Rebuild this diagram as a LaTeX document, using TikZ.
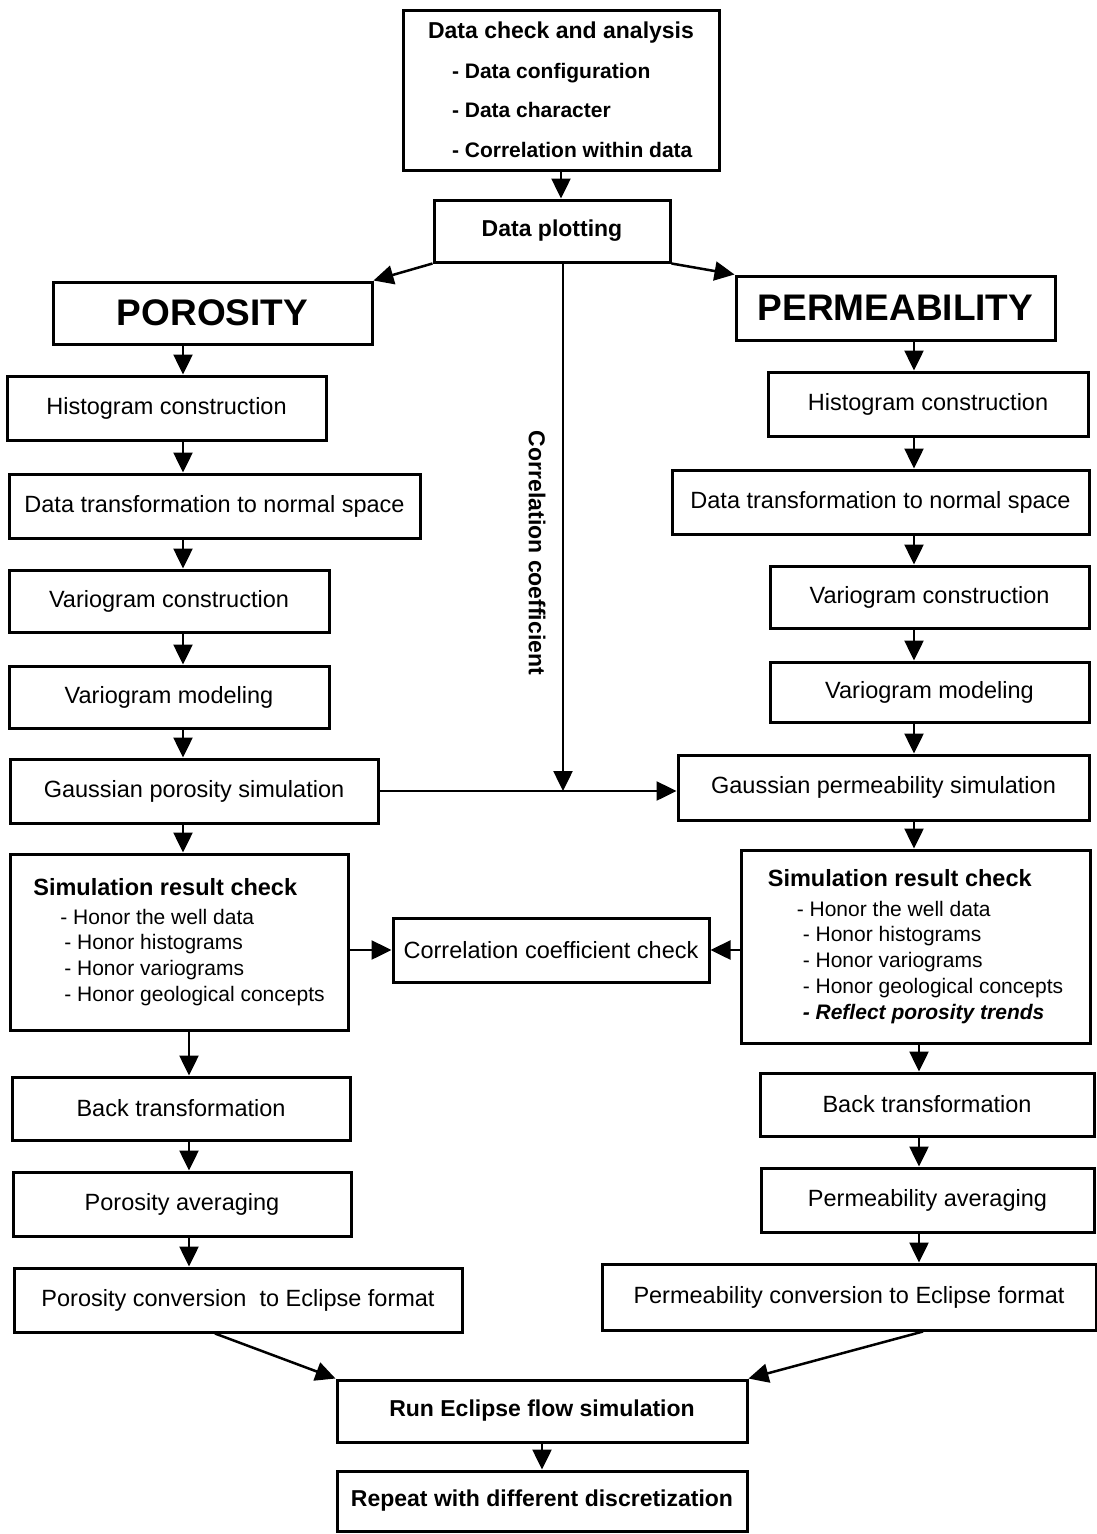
\documentclass[tikz,border=0pt]{standalone}
\usepackage{fontspec}
\setmainfont{Liberation Sans}
\usetikzlibrary{arrows.meta}
\newcommand{\boxfont}{\fontsize{23.5}{28}\selectfont}
\newcommand{\bigfont}{\fontsize{37}{44}\selectfont\bfseries}

\begin{document}
\begin{tikzpicture}[x=1pt, y=-1pt,
  box/.style={draw, line width=3pt, inner sep=0pt, font=\boxfont, align=center},
  boldbox/.style={box, font=\fontsize{23}{28}\selectfont\bfseries},
  checkbox/.style={box, align=left, font=\fontsize{21}{25.7}\selectfont},
  arrow/.style={-{Triangle[length=20pt,width=19pt]}, line width=2.5pt}
]
\useasboundingbox (0,0) rectangle (1097,1534);

\node[box, align=left, minimum width=316, minimum height=160, font=\fontsize{21}{39.5}\selectfont\bfseries] (check) at (561,90)
  {{\fontsize{23}{39.5}\selectfont Data check and analysis}\\
   \hspace*{24pt}- Data configuration\\
   \hspace*{24pt}- Data character\\
   \hspace*{24pt}- Correlation within data};
\node[boldbox, minimum width=236, minimum height=62] (plot) at (552,231) {Data plotting};
\node[box, font=\bigfont, minimum width=319, minimum height=62] (poro) at (212.5,313) {POROSITY};
\node[box, font=\bigfont, minimum width=319, minimum height=64] (perm) at (895.5,308) {PERMEABILITY};

\node[box, minimum width=319, minimum height=64] (lhist) at (166.5,408) {Histogram construction};
\node[box, minimum width=411, minimum height=64] (ltrans) at (214.5,506) {Data transformation to normal space};
\node[box, minimum width=320, minimum height=62] (lvar) at (169,601) {Variogram construction};
\node[box, minimum width=320, minimum height=62] (lmod) at (169,697) {Variogram modeling};
\node[box, minimum width=368, minimum height=64] (lgauss) at (194,791) {Gaussian porosity simulation};
\node[checkbox, minimum width=338, minimum height=176] (lcheck) at (179,942)
  {{\fontsize{23.5}{25.7}\selectfont\bfseries Simulation result check}\\[3pt]
   \hspace*{27pt}- Honor the well data\\
   \hspace*{31pt}- Honor histograms\\
   \hspace*{31pt}- Honor variograms\\
   \hspace*{31pt}- Honor geological concepts};
\node[box, minimum width=338, minimum height=63] (lback) at (181,1108.5) {Back transformation};
\node[box, minimum width=338, minimum height=64] (lavg) at (182,1204) {Porosity averaging};
\node[box, minimum width=448, minimum height=64] (lconv) at (238,1300) {Porosity conversion~ to Eclipse format};

\node[box, minimum width=320, minimum height=64] (rhist) at (928,404) {Histogram construction};
\node[box, minimum width=417, minimum height=64] (rtrans) at (880.5,502) {Data transformation to normal space};
\node[box, minimum width=319, minimum height=62] (rvar) at (929.5,597) {Variogram construction};
\node[box, minimum width=319, minimum height=60] (rmod) at (929.5,692) {Variogram modeling};
\node[box, minimum width=411, minimum height=65] (rgauss) at (883.5,787.5) {Gaussian permeability simulation};
\node[checkbox, minimum width=349, minimum height=193] (rcheck) at (915.5,946.5)
  {{\fontsize{23.5}{25.7}\selectfont\bfseries Simulation result check}\\[4pt]
   \hspace*{29pt}- Honor the well data\\
   \hspace*{35pt}- Honor histograms\\
   \hspace*{35pt}- Honor variograms\\
   \hspace*{35pt}- Honor geological concepts\\
   \hspace*{35pt}\textbf{\textit{- Reflect porosity trends}}};
\node[box, minimum width=334, minimum height=63] (rback) at (927,1104.5) {Back transformation};
\node[box, minimum width=333, minimum height=64] (ravg) at (927.5,1200) {Permeability averaging};
\node[box, minimum width=494, minimum height=66] (rconv) at (849,1297) {Permeability conversion to Eclipse format};

\node[box, minimum width=316, minimum height=64] (ccheck) at (551,950) {Correlation coefficient check};
\node[font=\fontsize{23}{28}\selectfont\bfseries, rotate=-90] (cclabel) at (537,553) {Correlation coefficient};

\node[boldbox, minimum width=410, minimum height=62] (run) at (542,1411) {Run Eclipse flow simulation};
\node[boldbox, minimum width=410, minimum height=60] (rep) at (542,1501) {Repeat with different discretization};

\coordinate (lcol) at (183,0);
\coordinate (lcol2) at (189,0);
\coordinate (rcol) at (914,0);
\coordinate (rcol2) at (919,0);
\coordinate (join) at (563,791);

\draw[arrow] (check.south) -- (check.south |- plot.north);
\draw[arrow] (plot.south west) -- (poro.north east);
\draw[arrow] (plot.south east) -- (perm.north west);
\draw[arrow] (plot.south -| join) -- (join);
\draw[arrow] (lgauss.east) -- (lgauss.east -| rgauss.west);

\draw[arrow] (poro.south -| lcol) -- (lhist.north -| lcol);
\draw[arrow] (lhist.south -| lcol) -- (ltrans.north -| lcol);
\draw[arrow] (ltrans.south -| lcol) -- (lvar.north -| lcol);
\draw[arrow] (lvar.south -| lcol) -- (lmod.north -| lcol);
\draw[arrow] (lmod.south -| lcol) -- (lgauss.north -| lcol);
\draw[arrow] (lgauss.south -| lcol) -- (lcheck.north -| lcol);
\draw[arrow] (lcheck.south -| lcol2) -- (lback.north -| lcol2);
\draw[arrow] (lback.south -| lcol2) -- (lavg.north -| lcol2);
\draw[arrow] (lavg.south -| lcol2) -- (lconv.north -| lcol2);

\draw[arrow] (perm.south -| rcol) -- (rhist.north -| rcol);
\draw[arrow] (rhist.south -| rcol) -- (rtrans.north -| rcol);
\draw[arrow] (rtrans.south -| rcol) -- (rvar.north -| rcol);
\draw[arrow] (rvar.south -| rcol) -- (rmod.north -| rcol);
\draw[arrow] (rmod.south -| rcol) -- (rgauss.north -| rcol);
\draw[arrow] (rgauss.south -| rcol) -- (rcheck.north -| rcol);
\draw[arrow] (rcheck.south -| rcol2) -- (rback.north -| rcol2);
\draw[arrow] (rback.south -| rcol2) -- (ravg.north -| rcol2);
\draw[arrow] (ravg.south -| rcol2) -- (rconv.north -| rcol2);

\draw[arrow] (lcheck.east |- ccheck.west) -- (ccheck.west);
\draw[arrow] (rcheck.west |- ccheck.east) -- (ccheck.east);

\draw[arrow] ([xshift=-23pt]lconv.south) -- (run.north west);
\draw[arrow] ([xshift=74pt]rconv.south) -- (run.north east);
\draw[arrow] (run) -- (rep);
\end{tikzpicture}
\end{document}
